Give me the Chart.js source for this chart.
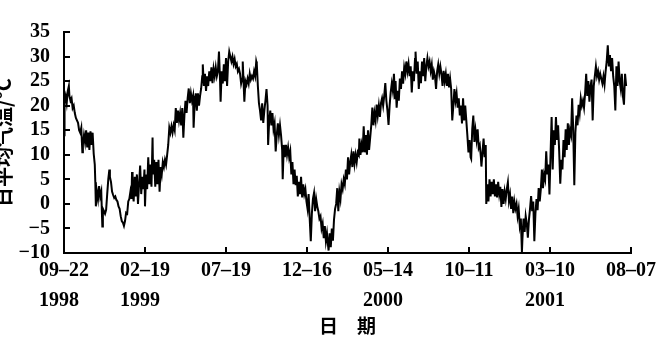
<!DOCTYPE html>
<html>
<head>
<meta charset="utf-8">
<script src="https://cdn.jsdelivr.net/npm/chart.js@4.4.1/dist/chart.umd.min.js"></script>
<style>
  body { margin: 0; background: #fff; }
  canvas { display: block; }
</style>
</head>
<body>
<canvas id="tempChart" width="665" height="350"></canvas>
<script>
// Daily mean temperature (day 0 = 1998-09-22)
// autumn/winter 1998
const days1 = [0,1,3,5,7,9,10,12,14,16, 18,20,22,24,26,28,30,32,34,35,
  37,39,41,43,45,47,49,51,53,55, 57,58,59,61,63,65,67,69,71,72,
  74,76,78,80,82,84,85,87,89,91, 93,95,97,99,101,103,105,107,109,111,
  113,115,117,119,121,123,125,126,127,129, 131,133,135,137,139,141,143,145,147,149];
const temps1 = [14,21,22,20.5,23,24,22,21,21.5,19.5, 20,18.5,17.5,17,16.5,15,14.5,15.5,10.5,12,
  14,12.5,15,11.5,14.5,11,14.8,12,14.5,10.2, 8,4.4,-0.5,2.5,1,3.6,1.5,2.5,-4.6,-1,
  -1.5,-2,-1.2,2,5,7,5.5,4.5,2.5,1.8, 1.2,1.5,0.8,0.5,-0.5,-1,-2.5,-3.5,-3.8,-4.5,
  -3.5,-1.8,-2,0.5,1,2.5,1,6.5,2.5,0.5, 5.5,1.5,6,0,4,7.8,2,5.5,3,7];

// spring/summer 1999
const days2 = [150,152,154,156,158,160,162,164,165,167, 169,171,173,175,177,179,181,183,185,187,
  189,191,193,195,197,199,201,203,205,207, 209,211,213,215,217,219,221,223,225,227,
  229,231,233,235,237,239,240,242,244,246, 248,250,252,254,256,257,259,261,263,265,
  267,269,271,273,275,277,279,281,283,285, 287,289,290,292,294,296,298,300,302,304,
  306,308];
const temps2 = [-0.5,6,3,9.5,4,8,3.5,13.5,6,9, 3.5,8.5,4,9,2.5,7.5,6,8.5,7.5,9,
  8,10,12,15.5,14.5,15.8,14.5,16,15,19.5, 16.5,19,17,18.5,16,19.5,13.5,18,21,18.5,
  21.5,23.5,20.5,22.5,21,22,15.5,20.5,22.5,19, 22.5,20,22,23.5,26,28.4,24,26.5,23,26,
  24,27,25,27.8,24.6,27.5,26,27.8,26,27, 31,25,20.8,27,24.5,28.4,25,29.7,24,29,
  31,30];

// summer/autumn 1999
const days3 = [310,312,314,316,318,320,322,324,326,328, 330,331,333,334,336,338,340,342,344,346,
  348,350,352,354,356,357,359,361,363,365, 367,369,371,373,375,377,378,380,382,384,
  386,388,390,392,394,396,398,400,402,404, 405,407,409,411,413,415,417,419,421,423,
  425,427,429,431,433,435,437,439,441,443, 445,447,449];
const temps3 = [29,30,28.5,29.5,28,28.5,27,27.5,26.5,24.5, 25.5,29,23.5,20.8,25,24.3,25.5,24.5,26.5,25.3,
  26,25.5,27,26,29,28.5,24,20.5,19,17, 20.5,16.5,19,21,23.4,20,12,17,19,16,
  18.5,15.2,16.4,10.7,14,16.4,14,16,13.9,11, 5,12,9.5,12,10,11.5,9.5,10.7,6,8.5,
  4,7,3.8,5.7,1.5,4.5,2,5.5,1.3,4, 2,3,0.5];

// winter/spring 1999-2000
const days4 = [451,453,455,457,459,461,463,465,467,469, 471,473,475,477,479,481,483,485,487,489,
  490,492,494,496,498,500,502,504,506,508, 510,512,514,516,518,520,522,524,526,528,
  530,532,534,536,538,540,542,544,546,547, 549,551,553,555,557,559,561,563,565,567,
  569,571,573,575,577,579,581,583,585,587, 589,591,593,595,597,599,601,603,605,607,
  609,611];
const temps4 = [-1,2,-3,-7.6,-2,1,2.2,-1.5,1,-0.5, -1.5,-3,-2.5,-5,-4,-7,-4.5,-7.6,-6,-8.5,
  -9.5,-6,-8.8,-5,-7.5,-3.2,-1,0,3.2,-1.5, 2.5,1,4,3,5,4,7,5,9.5,6,
  8.5,10,7.5,10.7,8.2,10,8.5,10.5,10,13.3, 10,12,10.5,15.8,10.5,14,10,15,11,13.5,
  16,19.6,16,18.5,17,20.2,18,20,17.7,20.5, 21.5,20,22,24.6,21,19,16.1,20,22.7,24.5,
  23,26.5];

// summer/autumn 2000
const days5 = [613,614,616,618,620,622,624,626,628,630, 632,634,636,638,640,642,644,646,648,650,
  651,653,655,657,659,661,663,665,667,669, 671,673,675,677,679,681,683,685,687,689,
  691,693,695,697,699,701,703,705,707,709, 711,713,715,717,719,721,723,725,727,729,
  731,733,735,737,739,741,743,745,747,749, 751,753,754,756,758,760];
const temps5 = [21.5,25,19.6,23,21,25.5,23.4,27,24.5,27.8, 26.5,29,27,28.5,26,28,22.7,27,25,29.5,
  31,26.5,29,23.4,27,24.6,29,26,29.7,25, 28,29.7,28,29,27.1,28.4,25.3,27,26,23.4,
  27,28.4,26.5,28,26.5,24,27.1,25,26.5,24, 26.5,23.7,25.5,23.4,17,20,23.4,21,22.5,19.6,
  21.5,18,20,16.4,21.5,17,20,17,13.9,10.5, 13,9.5,9.2,15.2,18,12.6];

// winter 2000-2001
const days6 = [762,764,766,768,770,772,773,775,777,779, 781,782,784,786,788,790,792,794,796,798,
  800,802,804,806,808,810,812,814,816,818, 820,822,824,826,828,830,832,834,836,838,
  840,842,844,846,848,849,851,853,855,857, 859,861,863,865,867,869,871,873,875,877,
  879,881,883,885,887,889,891,893,895,897, 899];
const temps6 = [15,13,15.2,11.4,12,9.5,7.6,10.5,13.3,9.5, 12,0,4,0.5,5,1.5,4.5,2,5,1.5,
  4,1.3,4.5,2,3.5,-0.6,3,0,2.5,1, 3,4.4,0.6,1.9,-1,1.5,-1.9,0.5,-1,0,
  -2.5,-1,-4.4,-3,-9.8,-7,-3,-5.7,-2.5,-4, -6.9,-3.2,-1,1.6,-1.5,0.5,-7.6,-2,1,-1.3,
  3.2,0.5,3,7,3.2,6,5,10.7,6,8, 1.9];

// spring/summer 2001
const days7 = [901,903,905,907,909,911,913,915,917,919, 921,923,925,927,929,931,933,935,937,939,
  941,943,945,947,949,951,953,955,957,959, 961,963,965,967,969,971,973,975,977,979,
  981,983,985,987,989,991,993,995,997,999, 1001,1003,1005,1007,1009,1011,1013,1015,1017,1019,
  1021,1023,1025,1027,1029,1031,1033,1035,1037,1039, 1041];
const temps7 = [10,17.7,7,15,12,17.7,13,16,10.7,4.1, 9,7,13,9.5,15.2,11,16.4,12,15,14,
  21.5,15.2,3.8,14.5,18,16,20.2,18.5,21.5,20, 21,19.6,22.5,26.5,22,25,20.8,24,25.3,17,
  24,26,28,26,27,25.3,26.5,25.5,24.5,26, 24.3,27,29,32.3,28,30.3,27,29.7,26,24,
  19,28,24,29,25,23.4,26.5,22,20.2,26.5, 24];

// Tick labels on the date axis (one every 150 days)
const dateLabels = ['09–22', '02–19', '07–19', '12–16', '05–14', '10–11', '03–10', '08–07'];
const yearLabels = ['1998', '1999', '', '', '2000', '', '2001', ''];

const days = [].concat(days1, days2, days3, days4, days5, days6, days7);
const temps = [].concat(temps1, temps2, temps3, temps4, temps5, temps6, temps7);
if (days.length !== temps.length) console.error('days/temps length mismatch', days.length, temps.length);

const serif = "'Liberation Serif', 'Times New Roman', serif";
const cjk = "'Noto Sans CJK SC', 'Noto Sans', sans-serif";

new Chart(document.getElementById('tempChart'), {
    type: 'line',
    data: {
        datasets: [{
            data: days.map((d, i) => ({ x: d, y: temps[i] })),
            borderColor: '#000',
            borderWidth: 2,
            pointRadius: 0,
            tension: 0,
            fill: false
        }]
    },
    options: {
        responsive: false,
        animation: false,
        devicePixelRatio: 1,
        layout: { padding: { left: -9, right: 28, top: 15, bottom: 0 } },
        plugins: { legend: { display: false }, tooltip: { enabled: false } },
        scales: {
            x: {
                type: 'linear',
                min: 0,
                max: 1050,
                border: { color: '#000', width: 2 },
                grid: { drawOnChartArea: false, color: '#000', lineWidth: 2, tickLength: -6 },
                ticks: {
                    stepSize: 150,
                    autoSkip: false,
                    maxRotation: 0,
                    padding: 9,
                    color: '#000',
                    font: { family: serif, size: 20, weight: 'bold', lineHeight: 1.5 },
                    callback: v => {
                        const i = Math.round(v / 150);
                        // en space keeps the year flush-left under the date
                        return yearLabels[i] ? [dateLabels[i], yearLabels[i] + '\u2002'] : dateLabels[i];
                    }
                },
                title: {
                    display: true,
                    text: '日　期',
                    color: '#000',
                    font: { family: cjk, size: 19, weight: 'bold', lineHeight: 1.2 },
                    padding: { top: 0, bottom: 13 }
                },
                afterFit: s => { s.height = 97; }
            },
            y: {
                min: -10,
                max: 35,
                border: { color: '#000', width: 2 },
                grid: { drawOnChartArea: false, color: '#000', lineWidth: 2, tickLength: -6 },
                ticks: {
                    stepSize: 5,
                    autoSkip: false,
                    padding: 20,
                    color: '#000',
                    font: { family: serif, size: 20, weight: 'bold' },
                    callback: v => v < 0 ? '−' + Math.abs(v) : String(v)
                },
                title: {
                    display: true,
                    text: '日平均气温/°C',
                    color: '#000',
                    font: { family: cjk, size: 20, weight: 'bold', lineHeight: 1.2 },
                    padding: 0
                },
                afterFit: s => { s.width = 73; }
            }
        }
    }
});
</script>
</body>
</html>
